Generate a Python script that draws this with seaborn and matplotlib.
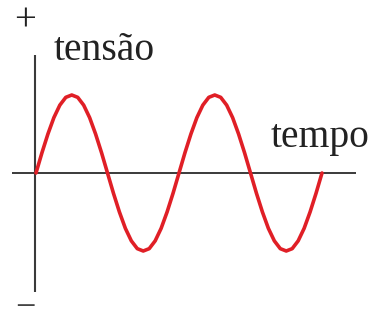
import numpy as np
import pandas as pd
import matplotlib
matplotlib.use("Agg")
import matplotlib.pyplot as plt
import seaborn as sns

time_periods = [k / 24 for k in range(49)]
one_cycle = [0.00, 0.26, 0.50, 0.71, 0.87, 0.97, 1.00, 0.97, 0.87, 0.71, 0.50, 0.26,
             0.00, -0.26, -0.50, -0.71, -0.87, -0.97, -1.00, -0.97, -0.87, -0.71, -0.50, -0.26]
voltage = one_cycle + one_cycle + [0.00]

y_label = "tensão"
x_label = "tempo"
plus_sign = "+"
minus_sign = "−"

df = pd.DataFrame({"tempo": time_periods, "tensao": voltage})

sns.set_theme(style="white")
plt.rcParams["font.family"] = ["Liberation Serif", "DejaVu Serif"]

W, H = 371, 326
fig = plt.figure(figsize=(W / 100, H / 100), dpi=100)
ax = fig.add_axes([0, 0, 1, 1])

# pixel mapping: x_px = 36 + t*143 ; y_px = 173 - v*78
x0, sx = 36.0, 143.0
y0, sy = 173.0, 78.0
ax.set_xlim((0 - x0) / sx, (W - x0) / sx)
ax.set_ylim((y0 - H) / sy, y0 / sy)
ax.axis("off")

def px(x):
    return (x - x0) / sx

def py(y):
    return (y0 - y) / sy

axis_color = "#3a3a3a"
# horizontal axis
ax.plot([px(12), px(356)], [0, 0], color=axis_color, lw=1.4, solid_capstyle="butt")
# vertical axis
ax.plot([px(34.5), px(34.5)], [py(55), py(292)], color=axis_color, lw=1.5, solid_capstyle="butt")

sns.lineplot(data=df, x="tempo", y="tensao", ax=ax, color="#e01f26", lw=2.6,
             sort=False, estimator=None)
ax.set_xlabel("")
ax.set_ylabel("")

txt_color = "#222222"
ax.text(px(54), py(60), y_label, fontsize=28.5, color=txt_color, va="baseline", ha="left")
ax.text(px(271), py(147), x_label, fontsize=28.5, color=txt_color, va="baseline", ha="left")
ax.text(px(25), py(21), plus_sign, fontsize=28, color=txt_color, va="center", ha="center")
ax.text(px(25), py(325.5), minus_sign, fontsize=26, color="#444444", va="bottom", ha="center")

fig.savefig("out.png", dpi=100, facecolor="white")
